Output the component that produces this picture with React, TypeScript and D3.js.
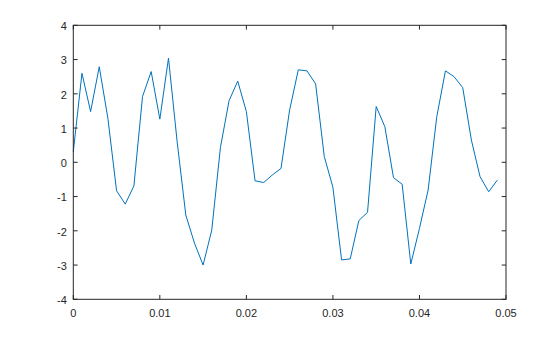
import React from "react";
import * as d3 from "d3";

const xValues: number[] = Array.from({ length: 50 }, (_, i) => +(i * 0.001).toFixed(3));
const yValues: number[] = [
  0.31, 2.6, 1.48, 2.79, 1.28, -0.83, -1.22, -0.69, 1.92, 2.65,
  1.26, 3.04, 0.6, -1.54, -2.36, -3.0, -1.98, 0.43, 1.8, 2.37,
  1.48, -0.54, -0.59, -0.37, -0.18, 1.53, 2.7, 2.67, 2.29, 0.17,
  -0.73, -2.85, -2.82, -1.7, -1.46, 1.63, 1.04, -0.45, -0.64, -2.97,
  -1.93, -0.81, 1.33, 2.67, 2.5, 2.18, 0.65, -0.42, -0.86, -0.52,
];
const xTicks: number[] = [0, 0.01, 0.02, 0.03, 0.04, 0.05];
const xTickLabels: string[] = ["0", "0.01", "0.02", "0.03", "0.04", "0.05"];
const yTicks: number[] = [-4, -3, -2, -1, 0, 1, 2, 3, 4];
const yTickLabels: string[] = ["-4", "-3", "-2", "-1", "0", "1", "2", "3", "4"];

export default function App() {
  const W = 560, H = 337;
  const L = 73.3, R = 506, T = 25.3, B = 299.3;
  const x = d3.scaleLinear().domain([0, 0.05]).range([L, R]);
  const y = d3.scaleLinear().domain([-4, 4]).range([B, T]);
  const line = d3.line<number>().x((_, i) => x(xValues[i])).y((d) => y(d));
  const tl = 4.3;
  const font = "Helvetica, 'Liberation Sans', Arial, sans-serif";
  return (
    <svg width={W} height={H} style={{ position: "absolute", left: 0, top: 0, background: "#fff" }}>
      <rect x={0} y={0} width={W} height={H} fill="#fff" />
      <path d={line(yValues) || ""} fill="none" stroke="#0072BD" strokeWidth={1} />
      <rect x={L} y={T} width={R - L} height={B - T} fill="none" stroke="#262626" strokeWidth={1} />
      {xTicks.map((t, i) => (
        <g key={"x" + i}>
          <line x1={x(t)} x2={x(t)} y1={B} y2={B - tl} stroke="#262626" />
          <line x1={x(t)} x2={x(t)} y1={T} y2={T + tl} stroke="#262626" />
          <text x={x(t)} y={B + 18} textAnchor="middle" fontSize={11} fontFamily={font} fill="#262626">
            {xTickLabels[i]}
          </text>
        </g>
      ))}
      {yTicks.map((t, i) => (
        <g key={"y" + i}>
          <line x1={L} x2={L + tl} y1={y(t)} y2={y(t)} stroke="#262626" />
          <line x1={R} x2={R - tl} y1={y(t)} y2={y(t)} stroke="#262626" />
          <text x={L - 6.5} y={y(t) + 4.8} textAnchor="end" fontSize={11} fontFamily={font} fill="#262626">
            {yTickLabels[i]}
          </text>
        </g>
      ))}
    </svg>
  );
}
